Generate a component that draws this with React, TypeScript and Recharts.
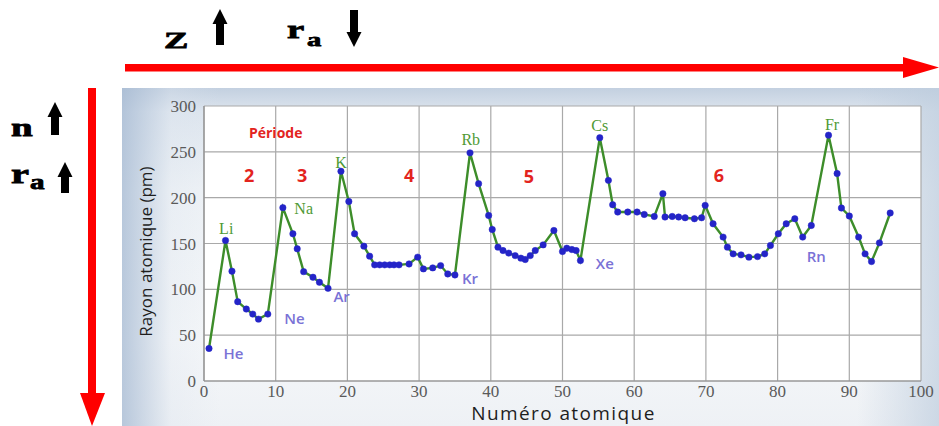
import React from 'react';
import { ComposedChart, Line, Scatter, XAxis, YAxis, CartesianGrid } from 'recharts';

// Atomic number (as placed in the picture) and atomic radius (pm)
const atomicNumber = [
  0.7, 3.0, 3.9, 4.7, 5.9, 6.8, 7.6, 8.9,
  11.0, 12.4, 13.0, 13.9, 15.2, 16.1, 17.3,
  19.1, 20.2, 21.0, 22.3, 23.1, 23.8, 24.5, 25.2, 25.9, 26.5, 27.2, 28.6,
  29.8, 30.6, 31.9, 33.0, 34.0, 35.0,
  37.1, 38.3, 39.7, 40.2, 41.0, 41.7, 42.5, 43.4, 44.2, 44.8, 45.5, 46.2, 47.3, 48.8,
  50.0, 50.6, 51.3, 51.9, 52.5,
  55.2, 56.4, 57.0, 57.7, 59.1, 60.4, 61.4, 62.8, 64.0, 64.3, 65.3, 66.2, 67.1, 68.4, 69.4,
  69.9, 71.0, 72.4, 73.0, 73.8, 74.9, 76.0, 77.2, 78.2, 79.0, 80.1, 81.2, 82.4, 83.5, 84.7,
  87.1, 88.3, 88.9, 90.0, 91.3, 92.2, 93.1, 94.2, 95.7,
];
const atomicRadius = [
  35.5, 153.3, 119.8, 86.5, 78.5, 73.0, 67.5, 73.0,
  189.1, 160.6, 144.2, 119.3, 113.2, 107.7, 101.1,
  228.8, 195.9, 160.6, 147.1, 136.2, 126.7, 126.7, 126.7, 126.7, 126.7, 126.7, 127.7,
  135.1, 122.3, 123.4, 125.9, 116.8, 115.7,
  248.9, 215.3, 180.6, 165.3, 146.0, 142.3, 139.5, 136.8, 134.0, 132.5, 136.8, 142.3, 148.5, 164.2,
  141.2, 144.9, 143.4, 142.3, 131.4,
  265.4, 218.9, 192.3, 184.3, 184.3, 184.3, 181.7, 179.5, 204.4, 178.9, 179.5, 178.9, 178.1, 177.0, 178.1,
  191.6, 171.5, 157.0, 146.0, 138.7, 137.6, 135.1, 135.7, 138.7, 147.8, 160.6, 171.5, 177.0, 157.0, 169.7,
  268.2, 226.3, 188.7, 180.0, 157.0, 138.7, 130.3, 150.7, 183.3,
];

const xTicks = [0, 10, 20, 30, 40, 50, 60, 70, 80, 90, 100];
const yTicks = [0, 50, 100, 150, 200, 250, 300];

// Alkali metal labels (green)
const alkaliNames = ['Li', 'Na', 'K', 'Rb', 'Cs', 'Fr'];
const alkaliZ = [3.1, 13.9, 19.1, 37.2, 55.2, 87.6];
const alkaliR = [166, 188.5, 238, 263, 279, 280];

// Noble gas labels (violet)
const nobleNames = ['He', 'Ne', 'Ar', 'Kr', 'Xe', 'Rn'];
const nobleZ = [4.1, 12.6, 19.2, 37.1, 55.9, 85.4];
const nobleR = [30.5, 68.7, 92.7, 112.4, 128.7, 136.4];

// Period labels (red)
const periodNames = ['Période', '2', '3', '4', '5', '6'];
const periodZ = [10.0, 6.3, 13.7, 28.6, 45.3, 71.8];
const periodR = [271.6, 224.7, 224.7, 224.7, 224, 224.7];

const data = atomicNumber.map((z, i) => ({ z, r: atomicRadius[i] }));
const alkaliData = alkaliNames.map((label, i) => ({ z: alkaliZ[i], r: alkaliR[i], label }));
const nobleData = nobleNames.map((label, i) => ({ z: nobleZ[i], r: nobleR[i], label }));
const periodData = periodNames.map((label, i) => ({ z: periodZ[i], r: periodR[i], label }));

const makeTextShape = (style: any) => (props: any) => {
  const { cx, cy, payload } = props;
  if (cx == null || cy == null) return <g />;
  const isWord = payload.label.length > 2;
  const { wordSize, ...rest } = style;
  return (
    <text
      x={cx}
      y={cy}
      textAnchor="middle"
      dominantBaseline="central"
      {...rest}
      fontSize={isWord && wordSize ? wordSize : style.fontSize}
    >
      {payload.label}
    </text>
  );
};

const tickStyle = { fill: '#5a5a5a', fontSize: 17, fontFamily: '"Liberation Serif", "DejaVu Serif", serif' };

const YLabel = (props: any) => {
  const vb = props.viewBox || {};
  const x = (vb.x ?? 0) + 23;
  const y = (vb.y ?? 0) + (vb.height ?? 0) / 2 + 8;
  return (
    <text
      x={x}
      y={y}
      transform={`rotate(-90, ${x}, ${y})`}
      textAnchor="middle"
      dominantBaseline="central"
      fontFamily='"Open Sans", "Noto Sans", sans-serif'
      fontSize={17}
      fill="#1e1e1e"
    >
      Rayon atomique (pm)
    </text>
  );
};

const XLabel = (props: any) => {
  const vb = props.viewBox || {};
  const x = (vb.x ?? 0) + (vb.width ?? 0) / 2 + 1;
  const y = (vb.y ?? 0) + 32;
  return (
    <text
      x={x}
      y={y}
      textAnchor="middle"
      dominantBaseline="central"
      fontFamily='"Open Sans", "Noto Sans", sans-serif'
      fontSize={19}
      letterSpacing={1.4}
      fill="#1e1e1e"
    >
      Numéro atomique
    </text>
  );
};

const Arrow = ({ cx, top, bottom, up }: { cx: number; top: number; bottom: number; up: boolean }) => {
  const shaft = 4;
  const head = 7.5;
  const headLen = 15;
  if (up) {
    return (
      <polygon
        points={`${cx - shaft},${bottom} ${cx + shaft},${bottom} ${cx + shaft},${top + headLen} ${cx + head},${top + headLen} ${cx},${top} ${cx - head},${top + headLen} ${cx - shaft},${top + headLen}`}
        fill="#000"
      />
    );
  }
  return (
    <polygon
      points={`${cx - shaft},${top} ${cx + shaft},${top} ${cx + shaft},${bottom - headLen} ${cx + head},${bottom - headLen} ${cx},${bottom} ${cx - head},${bottom - headLen} ${cx - shaft},${bottom - headLen}`}
      fill="#000"
    />
  );
};

const serifBold = '"Liberation Serif", "DejaVu Serif", "Times New Roman", serif';
const heavy = { fontFamily: serifBold, fontWeight: 'bold' as const, fill: '#000', stroke: '#000', strokeWidth: 0.8 };

export default function App() {
  return (
    <div style={{ position: 'absolute', left: 0, top: 0, width: 939, height: 426, background: '#fff', overflow: 'hidden' }}>
      {/* decorative arrows and symbols */}
      <svg width={939} height={426} style={{ position: 'absolute', left: 0, top: 0 }}>
        {/* red horizontal arrow */}
        <rect x={125} y={64} width={782} height={7.5} fill="#f00" />
        <polygon points="903,57 939,67.5 903,78" fill="#f00" />
        {/* red vertical arrow */}
        <rect x={88} y={88} width={8} height={308} fill="#f00" />
        <polygon points="80,393 92,426 105,393" fill="#f00" />

        {/* Z ↑ */}
        <text transform="translate(164,47.5) scale(1.55,1)" fontSize={23.5} {...heavy}>Z</text>
        <Arrow cx={220} top={9} bottom={45} up={true} />
        {/* r_a ↓ */}
        <text transform="translate(287,38) scale(1.55,1)" fontSize={25} {...heavy}>r</text>
        <text transform="translate(307,46) scale(1.5,1)" fontSize={19} {...heavy}>a</text>
        <Arrow cx={354} top={10} bottom={47} up={false} />

        {/* n ↑ */}
        <text transform="translate(11,135.5) scale(1.5,1)" fontSize={26} {...heavy}>n</text>
        <Arrow cx={55} top={102} bottom={135} up={true} />
        {/* r_a ↑ */}
        <text transform="translate(11,183) scale(1.5,1)" fontSize={27} {...heavy}>r</text>
        <text transform="translate(30,189) scale(1.45,1)" fontSize={20} {...heavy}>a</text>
        <Arrow cx={65} top={162} bottom={193} up={true} />
      </svg>

      {/* chart panel */}
      <div
        style={{
          position: 'absolute',
          left: 122,
          top: 88,
          width: 817,
          height: 338,
          background:
            'linear-gradient(90deg, rgba(165,185,210,0.75) 0%, rgba(220,228,238,0.3) 6%, rgba(255,255,255,0) 12%, rgba(255,255,255,0) 90%, rgba(190,205,222,0.7) 100%), linear-gradient(180deg, #c3d0e0 0%, #dde5ee 7%, #eef2f6 30%, #f5f7f9 75%, #eef1f5 100%)',
        }}
      >
        <ComposedChart
          width={817}
          height={338}
          data={data}
          margin={{ top: 18, right: 18, bottom: 0, left: 0 }}
        >
          <CartesianGrid stroke="#a9a9a9" strokeWidth={1.2} fill="#ffffff" fillOpacity={1} />
          <XAxis
            dataKey="z"
            type="number"
            domain={[0, 100]}
            ticks={xTicks}
            interval={0}
            height={45}
            tickLine={false}
            axisLine={{ stroke: '#909090', strokeWidth: 1.2 }}
            tick={tickStyle}
            tickMargin={-2}
            allowDataOverflow
            label={<XLabel />}
          />
          <YAxis
            type="number"
            domain={[0, 300]}
            ticks={yTicks}
            interval={0}
            width={82}
            tickLine={false}
            axisLine={{ stroke: '#909090', strokeWidth: 1.2 }}
            tick={tickStyle}
            tickMargin={2}
            allowDataOverflow
            label={<YLabel />}
          />
          <Line
            type="linear"
            dataKey="r"
            stroke="#3d8d2a"
            strokeWidth={2.4}
            dot={{ r: 3.2, fill: '#2424c8', stroke: '#2424c8', strokeWidth: 0.5 }}
            isAnimationActive={false}
            legendType="none"
          />
          <Scatter
            data={periodData}
            dataKey="r"
            isAnimationActive={false}
            legendType="none"
            shape={makeTextShape({ fill: '#e3241e', fontSize: 18, wordSize: 14, fontWeight: 'bold', fontFamily: '"Open Sans", "Noto Sans", sans-serif' })}
          />
          <Scatter
            data={alkaliData}
            dataKey="r"
            isAnimationActive={false}
            legendType="none"
            shape={makeTextShape({ fill: '#4f9a35', fontSize: 16, fontFamily: serifBold })}
          />
          <Scatter
            data={nobleData}
            dataKey="r"
            isAnimationActive={false}
            legendType="none"
            shape={makeTextShape({ fill: '#7a72d6', fontSize: 15, fontWeight: 600, fontFamily: '"Open Sans", "Noto Sans", sans-serif' })}
          />
        </ComposedChart>
      </div>
    </div>
  );
}
